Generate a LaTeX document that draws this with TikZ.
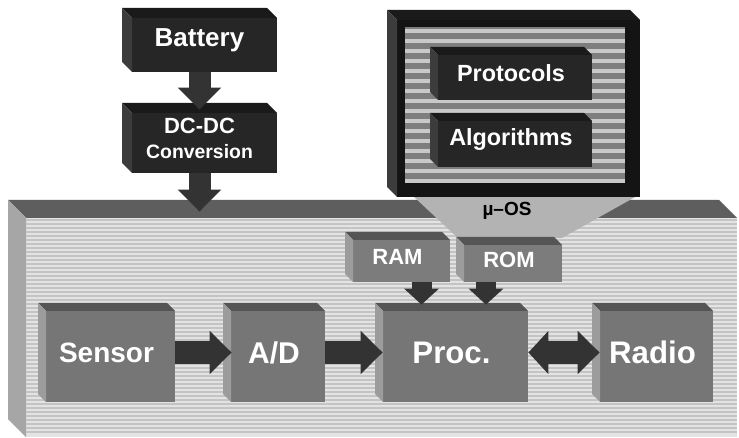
\documentclass[tikz,border=0pt]{standalone}
\usepackage{fontspec}
\setmainfont{Liberation Sans}
\usetikzlibrary{arrows.meta}

\definecolor{boxblack}{HTML}{262626}
\definecolor{boxblacktop}{HTML}{1A1A1A}
\definecolor{boxblackside}{HTML}{3C3C3C}
\definecolor{osblack}{HTML}{141414}
\definecolor{blockgray}{HTML}{767676}
\definecolor{blocktop}{HTML}{555555}
\definecolor{blockside}{HTML}{9C9C9C}
\definecolor{memgray}{HTML}{7C7C7C}
\definecolor{boardface}{HTML}{E3E3E3}
\definecolor{boardline}{HTML}{C4C4C4}
\definecolor{boardtop}{HTML}{5E5E5E}
\definecolor{boardside}{HTML}{A6A6A6}
\definecolor{panelgray}{HTML}{7E7E7E}
\definecolor{panelline}{HTML}{C9C9C9}
\definecolor{funnelgray}{HTML}{B3B3B3}
\definecolor{arrowgray}{HTML}{333333}

\tikzset{
  % front face, top face and left face of a box seen from the upper left
  slab/.style n args={4}{draw=none, inner sep=0pt, path picture={
      \path (path picture bounding box.north west) coordinate (nw)
            (path picture bounding box.north east) coordinate (ne)
            (path picture bounding box.south west) coordinate (sw)
            (path picture bounding box.south east) coordinate (se);
      \fill[#2] ([shift={(#1,-#1)}]nw) rectangle (se);
      \fill[#3] (nw) -- ([xshift=-#1]ne) -- ([yshift=-#1]ne) -- ([shift={(#1,-#1)}]nw) -- cycle;
      \fill[#4] (nw) -- ([shift={(#1,-#1)}]nw) -- ([xshift=#1]sw) -- ([yshift=#1]sw) -- cycle;
  }},
  darkbox/.style={slab={5pt}{boxblack}{boxblacktop}{boxblackside}, text=white},
  codebox/.style={slab={4pt}{boxblack}{boxblacktop}{boxblackside}, text=white},
  membox/.style={slab={4pt}{memgray}{blocktop}{blockside}, text=white},
  unitbox/.style={slab={4pt}{blockgray}{blocktop}{blockside}, text=white},
  bigarrow/.style={draw=arrowgray, line width=11pt, -{Triangle[width=21pt,length=11pt]}},
  smallarrow/.style={draw=arrowgray, line width=10pt, -{Triangle[width=17pt,length=8pt]}},
}

\begin{document}
\begin{tikzpicture}[x=0.5pt, y=-0.5pt]
  \path[use as bounding box, fill=white] (0,0) rectangle (739,438);

  % the node board
  \node[slab={9pt}{boardface}{boardtop}{boardside}, minimum width=364.5pt, minimum height=118.5pt] (board) at (372.5,318.5) {};
  \foreach \y in {220,224,...,432}
    \draw[boardline, line width=0.8pt] (26,\y) -- (737,\y);

  % operating system
  \fill[funnelgray] (413,196) -- (637,196) -- (562,238) -- (458,238) -- cycle;
  \node[slab={5pt}{osblack}{boxblacktop}{boxblackside}, minimum width=126.5pt, minimum height=93.5pt] (osbox) at (513.5,103.5) {};
  \node[fill=panelgray, inner sep=0pt, minimum width=110pt, minimum height=78pt] (panel) at (515,105) {};
  \foreach \y in {29,39,...,179}
    \fill[panelline] (405,\y) rectangle (625,\y+4);
  \node[codebox, minimum width=81pt, minimum height=26.5pt, font=\bfseries\fontsize{11.7}{13}\selectfont] (protocols) at (511,73.5) {Protocols};
  \node[codebox, minimum width=81pt, minimum height=27pt, font=\bfseries\fontsize{11.7}{13}\selectfont] (algorithms) at (511,140) {Algorithms};
  \node[font=\bfseries\fontsize{9.5}{11}\selectfont] (oslabel) at (507,211) {µ–OS};

  % power supply
  \node[darkbox, minimum width=77.5pt, minimum height=32pt, font=\bfseries\fontsize{13}{15}\selectfont] (battery) at (199.5,40) {Battery};
  \node[darkbox, minimum width=77.5pt, minimum height=35pt, align=center, font=\bfseries\fontsize{11}{12.5}\selectfont] (dcdc) at (199.5,138) {DC-DC\\{\fontsize{9.7}{12.5}\selectfont Conversion}};
  \draw[bigarrow, shorten >=-3.5pt] (battery) -- (dcdc);
  \draw[bigarrow, shorten >=-6pt] (dcdc) -- (dcdc |- board.north);

  % memory
  \node[membox, minimum width=52.5pt, minimum height=25pt, font=\bfseries\fontsize{11}{13}\selectfont] (ram) at (397.5,257) {RAM};
  \node[membox, minimum width=53pt, minimum height=22.5pt, font=\bfseries\fontsize{11}{13}\selectfont] (rom) at (509,259.5) {ROM};

  % signal chain
  \node[unitbox, minimum width=68.5pt, minimum height=49.5pt, font=\bfseries\fontsize{14}{16}\selectfont] (sensor) at (106.5,352.5) {Sensor};
  \node[unitbox, minimum width=51pt, minimum height=49.5pt, font=\bfseries\fontsize{15}{17}\selectfont] (ad) at (274,352.5) {A/D};
  \node[unitbox, minimum width=76.5pt, minimum height=49.5pt, font=\bfseries\fontsize{15.6}{18}\selectfont] (proc) at (451.5,352.5) {Proc.};
  \node[unitbox, minimum width=60.5pt, minimum height=49.5pt, font=\bfseries\fontsize{15.6}{18}\selectfont] (radio) at (652.5,352.5) {Radio};

  \draw[bigarrow, shorten >=-4.5pt] (sensor) -- (ad);
  \draw[bigarrow, shorten >=-4pt] (ad) -- (proc);
  \draw[bigarrow, {Triangle[width=21pt,length=10pt]}-{Triangle[width=21pt,length=11pt]}, shorten >=-4pt] (proc) -- (radio);

  \coordinate (ramout) at ([xshift=12pt]ram.south);
  \coordinate (romout) at ([xshift=-11.5pt]rom.south);
  \draw[smallarrow, shorten >=-1pt] (ramout) -- (ramout |- proc.north);
  \draw[smallarrow, shorten >=-1pt] (romout) -- (romout |- proc.north);
\end{tikzpicture}
\end{document}
